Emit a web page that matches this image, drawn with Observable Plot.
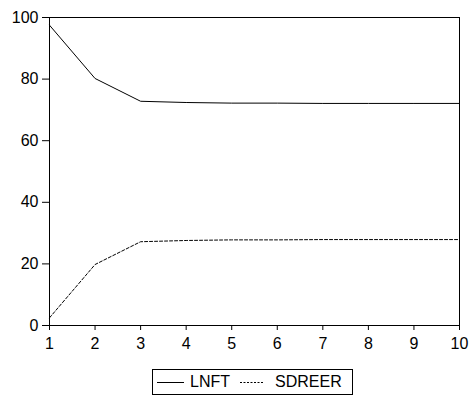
<!DOCTYPE html>
<html>
<head>
<meta charset="utf-8">
<script src="https://cdn.jsdelivr.net/npm/d3@7"></script>
<script src="https://cdn.jsdelivr.net/npm/@observablehq/plot@0.6"></script>
<style>
  html, body { margin: 0; padding: 0; background: #fff; }
  body { width: 474px; height: 396px; position: relative; overflow: hidden; font-family: "Liberation Sans", Arial, sans-serif; }
  #legend { position: absolute; left: 152px; top: 369px; width: 199px; height: 24px; border: 1px solid #000; display: flex; align-items: center; font-size: 16px; color: #000; box-sizing: content-box; }
  #legend .item { display: flex; align-items: center; }
  #legend svg { display: block; }
</style>
</head>
<body>
<div id="chart"></div>
<div id="legend"></div>
<script>
const periods = [1, 2, 3, 4, 5, 6, 7, 8, 9, 10];
const lnft = [97.5, 80.2, 72.8, 72.4, 72.2, 72.2, 72.1, 72.1, 72.1, 72.1];
const sdreer = [2.5, 19.8, 27.2, 27.6, 27.8, 27.8, 27.9, 27.9, 27.9, 27.9];
const seriesNames = ["LNFT", "SDREER"];
const yTicks = [0, 20, 40, 60, 80, 100];
const dashes = [null, "3,2"];
const legendDashes = [null, "2,1.5"];

const rows = [];
periods.forEach((p, i) => {
  rows.push({period: p, value: lnft[i], series: seriesNames[0]});
  rows.push({period: p, value: sdreer[i], series: seriesNames[1]});
});

const plot = Plot.plot({
  width: 474,
  height: 358,
  marginLeft: 49,
  marginRight: 15,
  marginTop: 17,
  marginBottom: 33,
  style: {fontFamily: "Liberation Sans, Arial, sans-serif", fontSize: "16px", color: "#000", background: "#fff"},
  x: {domain: [1, 10], ticks: periods, tickFormat: d => String(d)},
  y: {domain: [0, 100], ticks: yTicks},
  marks: [
    Plot.axisX({ticks: periods, tickSize: 5, tickPadding: 7, label: null, tickFormat: d => String(d), stroke: "#000", fill: "#000", fontSize: 16}),
    Plot.axisY({ticks: yTicks, tickSize: 7, tickPadding: 4, label: null, stroke: "#000", fill: "#000", fontSize: 16}),
    Plot.line(rows.filter(d => d.series === seriesNames[0]), {x: "period", y: "value", stroke: "#000", strokeWidth: 1}),
    Plot.line(rows.filter(d => d.series === seriesNames[1]), {x: "period", y: "value", stroke: "#000", strokeWidth: 1, strokeDasharray: dashes[1]}),
    Plot.frame({stroke: "#000", strokeWidth: 1})
  ]
});
document.getElementById("chart").appendChild(plot);

// legend
const legend = document.getElementById("legend");
const gaps = [4, 10];
const sampleW = [27, 23];
seriesNames.forEach((name, i) => {
  const item = document.createElement("div");
  item.className = "item";
  item.style.marginLeft = gaps[i] + "px";
  const ns = "http://www.w3.org/2000/svg";
  const s = document.createElementNS(ns, "svg");
  s.setAttribute("width", sampleW[i]);
  s.setAttribute("height", 10);
  const ln = document.createElementNS(ns, "line");
  ln.setAttribute("x1", 0); ln.setAttribute("x2", sampleW[i]);
  ln.setAttribute("y1", 5.5); ln.setAttribute("y2", 5.5);
  ln.setAttribute("stroke", "#000");
  ln.setAttribute("stroke-width", 1);
  if (legendDashes[i]) ln.setAttribute("stroke-dasharray", legendDashes[i]);
  s.appendChild(ln);
  item.appendChild(s);
  const t = document.createElement("span");
  t.textContent = name;
  t.style.marginLeft = (i === 0 ? 6 : 12) + "px";
  item.appendChild(t);
  legend.appendChild(item);
});
</script>
</body>
</html>
